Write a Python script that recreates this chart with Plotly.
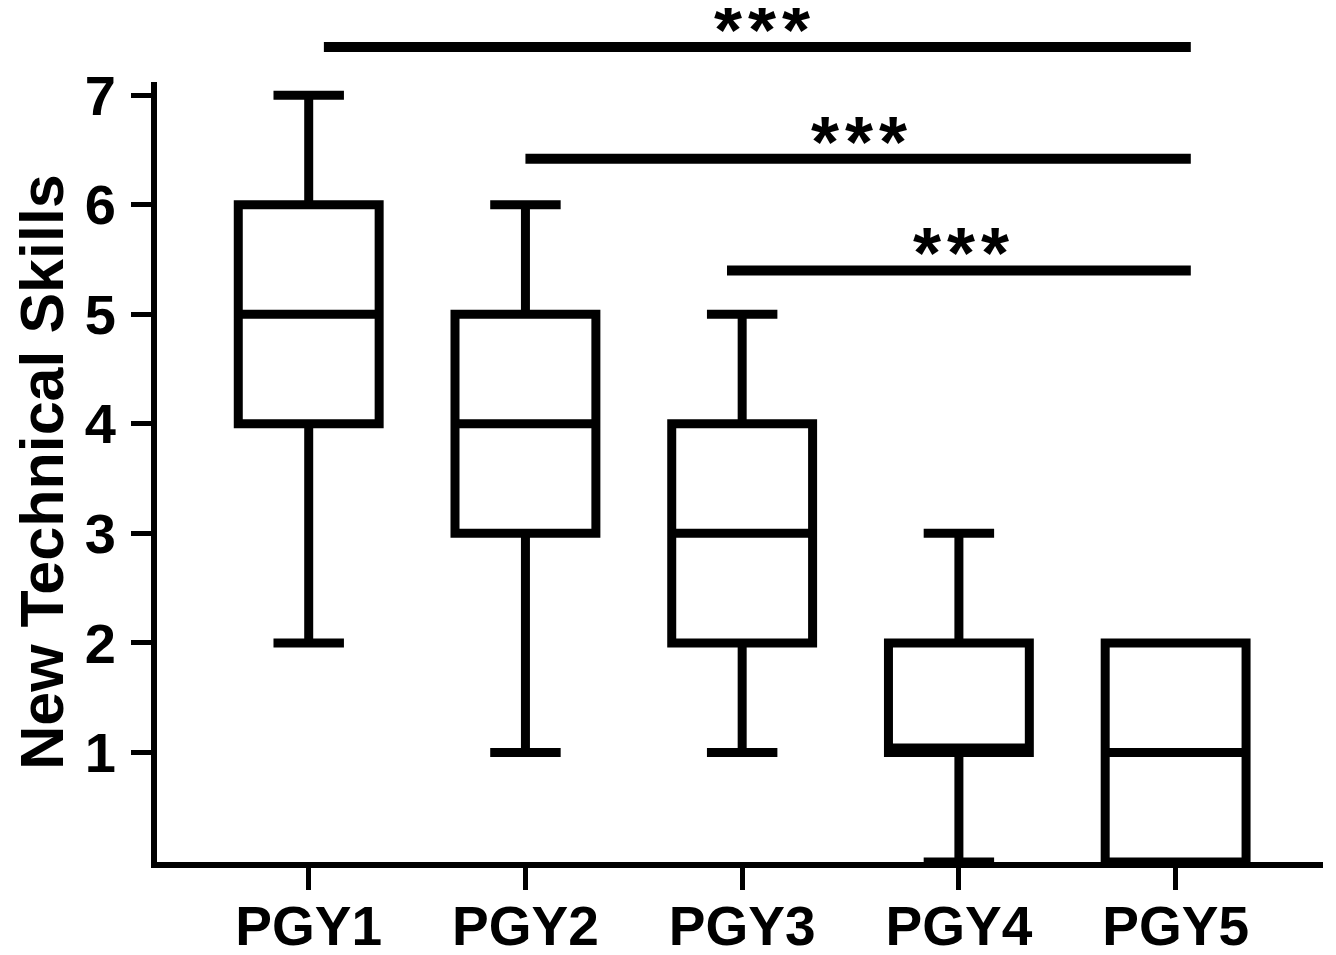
import plotly.graph_objects as go

categories = ["PGY1", "PGY2", "PGY3", "PGY4", "PGY5"]
lower_whisker = [2, 1, 1, 0, 0]
q1_values = [4, 3, 2, 1, 0]
medians = [5, 4, 3, 1.04, 1]
q3_values = [6, 5, 4, 2, 2]
upper_whisker = [7, 6, 5, 3, 2]

y_ticks = [1, 2, 3, 4, 5, 6, 7]
y_max = 7.12

# significance comparisons: (start category index, end category index, bar level, label)
sig_start = [0.07, 1.0, 1.93]
sig_end = [4.07, 4.07, 4.07]
sig_level = [7.44, 6.42, 5.40]
sig_label = ["*\u200a*\u200a*", "*\u200a*\u200a*", "*\u200a*\u200a*"]
sig_label_x = [2.09, 2.54, 3.01]

FONT = "Liberation Sans, Arial, sans-serif"

fig = go.Figure()
fig.add_trace(go.Box(
    x=categories,
    q1=q1_values,
    median=medians,
    q3=q3_values,
    lowerfence=lower_whisker,
    upperfence=upper_whisker,
    boxpoints=False,
    fillcolor="white",
    line=dict(color="black", width=9),
    whiskerwidth=0.5,
    width=0.65,
    showlegend=False,
    hoverinfo="skip",
))

for x0, x1, lvl, lab, lx in zip(sig_start, sig_end, sig_level, sig_label, sig_label_x):
    fig.add_shape(type="line", xref="x", yref="paper",
                  x0=x0, x1=x1, y0=lvl / y_max, y1=lvl / y_max,
                  line=dict(color="black", width=10))
    fig.add_annotation(x=lx, xref="x", y=lvl / y_max, yref="paper",
                       text=lab, showarrow=False,
                       yanchor="bottom", yshift=-25,
                       font=dict(family=FONT, size=72, color="black", weight="bold"))

fig.update_layout(
    width=1320, height=955,
    margin=dict(l=149, r=5, t=74, b=101),
    paper_bgcolor="white", plot_bgcolor="white",
    font=dict(family=FONT, color="black"),
    xaxis=dict(
        type="category", range=[-0.7, 4.68], automargin=False,
        showline=True, linecolor="black", linewidth=6,
        ticks="outside", ticklen=22, tickwidth=5, tickcolor="black",
        showgrid=False, zeroline=False, ticklabelstandoff=-11,
        tickfont=dict(family=FONT, size=55, color="black", weight="bold"),
    ),
    yaxis=dict(
        range=[0, y_max], tickvals=y_ticks, automargin=False,
        showline=True, linecolor="black", linewidth=6,
        ticks="outside", ticklen=20, tickwidth=5, tickcolor="black",
        showgrid=False, zeroline=False, ticklabelstandoff=4,
        tickfont=dict(family=FONT, size=56, color="black", weight="bold"),
        title=dict(text="New Technical Skills", standoff=26,
                   font=dict(family=FONT, size=61, color="black", weight="bold")),
    ),
)

fig.write_html("out.html")
